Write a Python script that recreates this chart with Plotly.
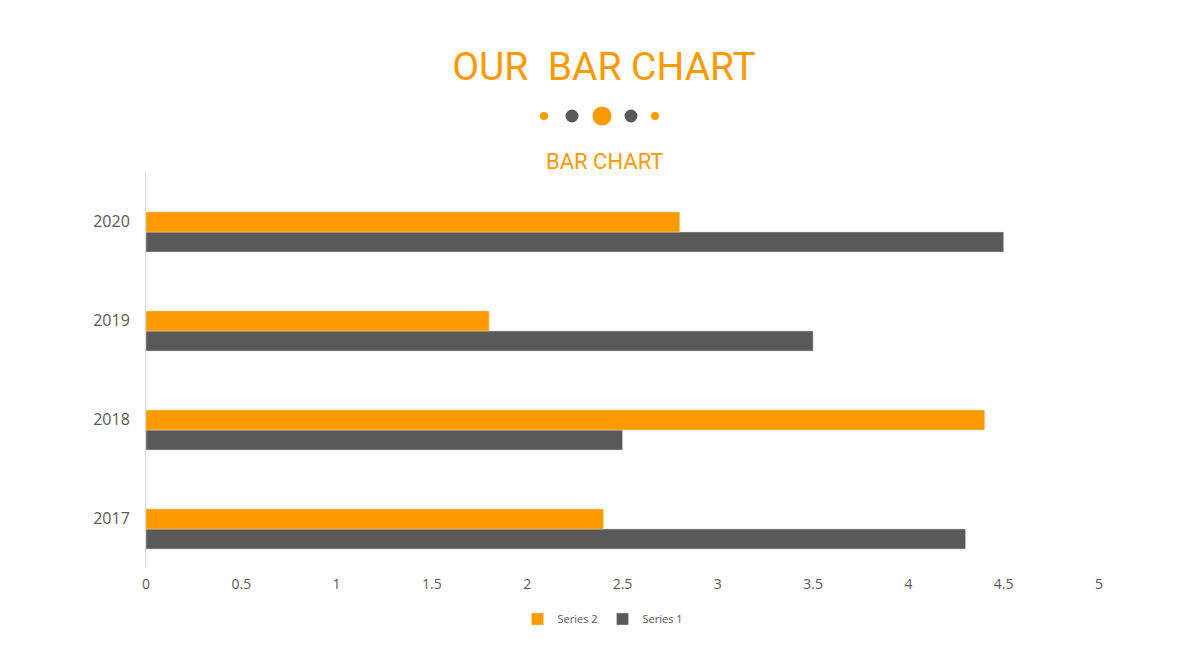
import plotly.graph_objects as go

years = ["2017", "2018", "2019", "2020"]
series1 = [4.3, 2.5, 3.5, 4.5]
series2 = [2.4, 4.4, 1.8, 2.8]
x_ticks = [0, 0.5, 1, 1.5, 2, 2.5, 3, 3.5, 4, 4.5, 5]

ORANGE = "#FF9900"
GREY = "#595959"

# bars sit a little below the category centre (as in the original Excel chart)
BW = 0.202
fig = go.Figure()
fig.add_trace(go.Bar(y=years, x=series1, name="Series 1", orientation="h",
                     width=BW, offset=-0.308,
                     marker=dict(color=GREY, line=dict(color="#d9d9d9", width=0.5))))
fig.add_trace(go.Bar(y=years, x=series2, name="Series 2", orientation="h",
                     width=BW, offset=-0.106,
                     marker=dict(color=ORANGE, line=dict(color="#ffd9a0", width=0.5))))

# page body has an 8px margin, so work in figure coords (window - 8)
OFF = 8
W, H = 1200 - 2 * OFF, 654 - 2 * OFF
L, R, T, B = 146 - OFF, 1099 - OFF, 172 - OFF, 568 - OFF

def px_x(p):
    return (p - OFF - L) / (R - L)

def px_y(p):
    return (B - (p - OFF)) / (B - T)

# little dots under the title
dots = [(544, 4, ORANGE), (572, 6.5, GREY), (602, 9.5, ORANGE), (631, 6.5, GREY), (655, 4, ORANGE)]
shapes = []
for cx, r, c in dots:
    shapes.append(dict(type="circle", xref="paper", yref="paper",
                       xsizemode="pixel", ysizemode="pixel",
                       xanchor=px_x(cx), yanchor=px_y(116),
                       x0=-r, x1=r, y0=-r, y1=r,
                       fillcolor=c, line=dict(width=0)))

fig.update_layout(
    width=W, height=H,
    paper_bgcolor="white", plot_bgcolor="white",
    margin=dict(l=L, r=W - R, t=T, b=H - B),
    barmode="overlay",
    title=dict(text="OUR  BAR CHART", x=(604 - OFF) / W, xanchor="center",
               y=1 - (66 - OFF) / H, yanchor="middle",
               font=dict(family="Roboto", size=39, color=ORANGE)),
    annotations=[dict(text="BAR CHART", xref="paper", yref="paper",
                      x=px_x(604), y=px_y(162), xanchor="center", yanchor="middle",
                      showarrow=False, font=dict(family="Roboto", size=22, color=ORANGE))],
    shapes=shapes,
    showlegend=True,
    legend=dict(orientation="h", traceorder="reversed", x=px_x(603), xanchor="center",
                y=px_y(619), yanchor="middle", itemwidth=30,
                font=dict(family="Open Sans", size=11, color=GREY)),
    xaxis=dict(range=[0, 5], tickvals=x_ticks, ticktext=[f"{v:g}" for v in x_ticks],
               showgrid=False, zeroline=False, showline=False,
               tickfont=dict(family="Open Sans", size=14, color=GREY), ticklen=0,
               ticks="", ticklabelstandoff=6),
    yaxis=dict(showgrid=False, zeroline=False, showline=True, linecolor="#d9d9d9",
               linewidth=1, ticks="", ticklabelstandoff=12,
               range=[-0.5, 3.5],
               tickfont=dict(family="Open Sans", size=16, color=GREY)),
)

fig.write_html("out.html")
